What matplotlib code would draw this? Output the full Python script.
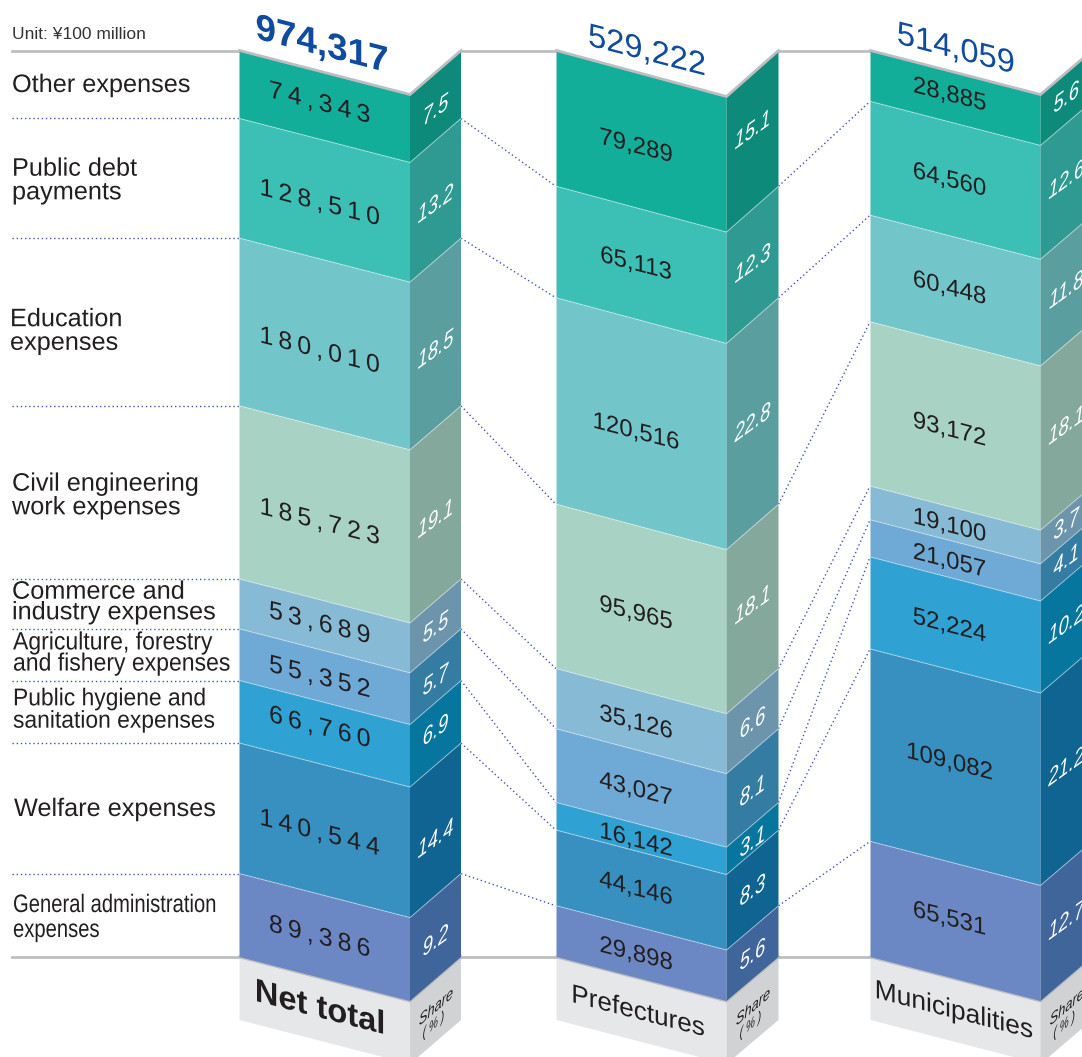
import numpy as np
import matplotlib
matplotlib.use('Agg')
import matplotlib.pyplot as plt
from matplotlib.patches import Polygon
from matplotlib.patheffects import AbstractPathEffect
from matplotlib.transforms import Affine2D

plt.rcParams['font.family'] = ['Liberation Sans', 'DejaVu Sans']

# data, top of the column first
categories = ['Other expenses', 'Public debt\npayments', 'Education\nexpenses',
              'Civil engineering\nwork expenses', 'Commerce and\nindustry expenses',
              'Agriculture, forestry\nand fishery expenses',
              'Public hygiene and\nsanitation expenses', 'Welfare expenses',
              'General administration\nexpenses']
net_values = [74343, 128510, 180010, 185723, 53689, 55352, 66760, 140544, 89386]
pref_values = [79289, 65113, 120516, 95965, 35126, 43027, 16142, 44146, 29898]
muni_values = [28885, 64560, 60448, 93172, 19100, 21057, 52224, 109082, 65531]
net_share = [7.5, 13.2, 18.5, 19.1, 5.5, 5.7, 6.9, 14.4, 9.2]
pref_share = [15.1, 12.3, 22.8, 18.1, 6.6, 8.1, 3.1, 8.3, 5.6]
muni_share = [5.6, 12.6, 11.8, 18.1, 3.7, 4.1, 10.2, 21.2, 12.7]
net_total = '974,317'
pref_total = '529,222'
muni_total = '514,059'

face_colors = ['#12AE9A', '#3CBFB5', '#72C6C9', '#A8D3C4', '#87BAD4',
               '#6FA9D6', '#2FA2D3', '#3790C0', '#6B88C4']
side_colors = ['#0E8A7B', '#2F9A91', '#5A9EA0', '#84A89C', '#6C95AB',
               '#347CA2', '#07769F', '#106491', '#3F659B']

# small layout nudges for the printed numbers, in pixels
net_nudge = [-2, 4, 8, 9, -1, 2, -5, 4, 1]
pref_nudge = [8, 2, 11, 7, 4, 4, 4, 1, 3]
muni_nudge = [-1, 2, 0, 6, 3, 3, 3, -3, 0]
net_side_nudge = [4, 4, 6, 5, 2, 4, -3, 9, 4]
pref_side_nudge = [-10, 0, 0, -3, 3, 4, 4, 1, 2]
muni_side_nudge = [0, 0, 0, 0, 0, 0, 0, 0, 0]

W, H = 1082, 1057
TOP = 50.5
BOTTOM = 957
DROP = 44
GRAY = '#BCBEC0'
DOT = '#3F55B5'
INK = '#231F20'
BLUE = '#0F4C9E'
FACE_K = -0.258
SIDE_K = 0.72


class Skew(AbstractPathEffect):
    # squeeze the glyphs sideways about x=cx and shear them vertically
    def __init__(self, cx, sx=1.0, k=0.0):
        super().__init__()
        self.m = Affine2D(np.array([[sx, 0, cx - sx * cx],
                                    [k * sx, 1, -k * sx * cx],
                                    [0, 0, 1]], dtype=float))

    def draw_path(self, renderer, gc, tpath, affine, rgbFace=None):
        renderer.draw_path(gc, tpath, affine + self.m, rgbFace)


def boundaries(values):
    v = np.array(values, dtype=float)
    return TOP + np.concatenate([[0], np.cumsum(v)]) / v.sum() * (BOTTOM - TOP)


def skew_text(x, y, s, sx=1.0, k=FACE_K, **kw):
    ax.text(x, y, s, ha='center', va='center', zorder=6,
            path_effects=[Skew(x, sx, k)], **kw)


fig = plt.figure(figsize=(W / 100, H / 100), dpi=100)
ax = fig.add_axes([0, 0, 1, 1])
ax.set_xlim(0, W)
ax.set_ylim(H, 0)
ax.axis('off')

net_y = boundaries(net_share)
pref_y = boundaries(pref_values)
muni_y = boundaries(muni_values)

columns = [
    (239.5, 410, 461, net_y, net_values, net_share, net_nudge, net_side_nudge, 44, 5),
    (556.5, 726.5, 778.5, pref_y, pref_values, pref_share, pref_nudge, pref_side_nudge, 46, 5.5),
    (870.5, 1040.5, 1092, muni_y, muni_values, muni_share, muni_nudge, muni_side_nudge, 44, 6),
]

for x0, x1, x2, ys, values, share, nudge, side_nudge, top_drop, shift in columns:
    drops = np.linspace(top_drop, DROP, len(ys))
    for i in range(len(values)):
        a, b = ys[i], ys[i + 1]
        da, db = drops[i], drops[i + 1]
        ax.add_patch(Polygon([(x0, a), (x1, a + da), (x1, b + db), (x0, b)],
                             fc=face_colors[i], ec='none', zorder=2))
        ax.add_patch(Polygon([(x1, a + da), (x2, a), (x2, b), (x1, b + db)],
                             fc=side_colors[i], ec='none', zorder=2))
        if i > 0:
            ax.plot([x0, x1, x2], [a, a + da, a], color='white', alpha=0.4, lw=0.8, zorder=3)

        s = f'{values[i]:,}'
        if values is net_values:
            s = '\u2009'.join(s)
        cx = (x0 + x1) / 2 - shift
        cy = (a + b) / 2 + (cx - x0) * 0.258 + nudge[i]
        skew_text(cx, cy, s, fontsize=18 if values is net_values else 17.3, color=INK)
        sx_c = (x1 + x2) / 2
        skew_text(sx_c, (a + b) / 2 + 22 + side_nudge[i], f'{share[i]}', sx=0.78, k=SIDE_K,
                  fontsize=17, color='white', style='italic')

    # grey base under the column
    ax.add_patch(Polygon([(x0, BOTTOM), (x1, BOTTOM + DROP), (x1, 1064), (x0, 1020)],
                         fc='#E6E7E9', ec='none', zorder=1))
    ax.add_patch(Polygon([(x1, BOTTOM + DROP), (x2, BOTTOM), (x2, 1020), (x1, 1064)],
                         fc='#D0D2D4', ec='none', zorder=1))
    ax.plot([x0, x1, x2], [TOP, TOP + top_drop, TOP], color=GRAY, lw=2, zorder=5, solid_joinstyle='miter')
    ax.plot([x0, x1, x2], [BOTTOM, BOTTOM + DROP, BOTTOM], color=GRAY, lw=2, zorder=1.5, solid_joinstyle='miter')

    skew_text((x1 + x2) / 2 + 0.5, 1007, 'Share', sx=0.8, k=0.86, fontsize=11.5, color=INK, style='italic')
    skew_text((x1 + x2) / 2 - 2, 1025, '( % )', sx=0.7, k=0.86, fontsize=10.5, color=INK, style='italic')

# grey rules between the columns
for xa, xb, y in [(12, 239.5, TOP), (461, 556.5, TOP), (778.5, 870.5, TOP),
                  (12, 239.5, BOTTOM), (461, 556.5, BOTTOM), (778.5, 870.5, BOTTOM)]:
    ax.plot([xa, xb], [y, y], color=GRAY, lw=2, zorder=1)

# dotted connectors
for i in range(1, len(net_values)):
    ax.plot([12, 239], [net_y[i], net_y[i]], color=DOT, lw=1, ls=(0, (1, 2)), zorder=1)
    ax.plot([461, 556], [net_y[i], pref_y[i]], color=DOT, lw=1, ls=(0, (1, 2)), zorder=1)
    ax.plot([778.5, 870], [pref_y[i], muni_y[i]], color=DOT, lw=1, ls=(0, (1, 2)), zorder=1)

# totals
skew_text(322, 46, net_total, fontsize=26.5, fontweight='bold', color=BLUE)
skew_text(647, 52, pref_total, fontsize=23.5, color=BLUE)
skew_text(956, 50, muni_total, fontsize=23.5, color=BLUE)

# column names
skew_text(320, 1009, 'Net total', fontsize=23.5, fontweight='bold', color=INK)
skew_text(638, 1012, 'Prefectures', fontsize=18.8, color=INK)
skew_text(954, 1011, 'Municipalities', fontsize=19, color=INK)

ax.text(12, 34.5, 'Unit: \u00a5100 million', fontsize=12.5, color='#333333', ha='left', va='center')

# row labels on the left
label_x = [12, 12, 10, 12, 12, 13, 13, 14, 13]
label_y = [85, 180.5, 331, 495.5, 602, 653, 710.5, 809, 917.5]
label_size = [18.2, 18.2, 18.2, 18.2, 18.2, 18, 17.5, 18.2, 18.2]
label_squeeze = [1, 1, 1, 1, 1, 0.92, 0.94, 1, 0.8]
label_space = [0.98, 0.98, 0.98, 0.98, 0.82, 0.85, 1.02, 0.98, 1.05]
for i, name in enumerate(categories):
    ax.text(label_x[i], label_y[i], name, fontsize=label_size[i], color=INK,
            linespacing=label_space[i], ha='left', va='center',
            path_effects=[Skew(label_x[i], label_squeeze[i], 0)])

fig.savefig('out.png', dpi=100)
